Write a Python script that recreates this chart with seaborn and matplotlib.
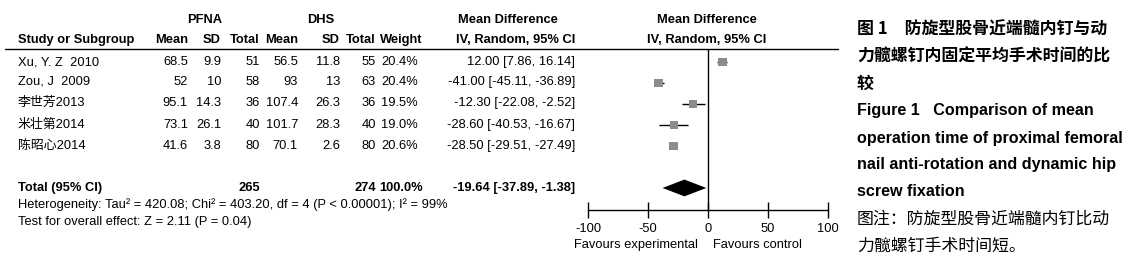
import numpy as np
import pandas as pd
import seaborn as sns
import matplotlib.pyplot as plt
from matplotlib.lines import Line2D

# 数据
studies = ['Xu, Y. Z  2010', 'Zou, J  2009', '李世芳2013', '米壮第2014', '陈昭心2014']
pfna_mean = ['68.5', '52', '95.1', '73.1', '41.6']
pfna_sd = ['9.9', '10', '14.3', '26.1', '3.8']
pfna_n = [51, 58, 36, 40, 80]
dhs_mean = ['56.5', '93', '107.4', '101.7', '70.1']
dhs_sd = ['11.8', '13', '26.3', '28.3', '2.6']
dhs_n = [55, 63, 36, 40, 80]
weights = [20.4, 20.4, 19.5, 19.0, 20.6]
md = [12.00, -41.00, -12.30, -28.60, -28.50]
ci_low = [7.86, -45.11, -22.08, -40.53, -29.51]
ci_high = [16.14, -36.89, -2.52, -16.67, -27.49]
total_md, total_low, total_high = -19.64, -37.89, -1.38
total_pfna, total_dhs = 265, 274
x_ticks = [-100, -50, 0, 50, 100]

caption_title = ['图 1　防旋型股骨近端髓内钉与动', '力髋螺钉内固定平均手术时间的比', '较']
caption_en = ['Figure 1   Comparison of mean', 'operation time of proximal femoral',
              'nail anti-rotation and dynamic hip', 'screw fixation']
caption_note = ['图注：防旋型股骨近端髓内钉比动', '力髋螺钉手术时间短。']

sns.set_theme(style='white')
plt.rcParams['font.family'] = ['Liberation Sans', 'Noto Sans CJK SC', 'DejaVu Sans']

W, H = 1132, 274
FS = 9.3
fig = plt.figure(figsize=(W / 100, H / 100), dpi=100)
fig.patch.set_facecolor('white')

def px(x, y):
    return x / W, 1 - y / H

def txt(x, y, s, ha='left', bold=False, size=FS, **kw):
    fx, fy = px(x, y)
    fig.text(fx, fy, s, ha=ha, va='center', fontsize=size,
             fontweight='bold' if bold else 'normal', color='black', **kw)

# 表头
txt(205, 20, 'PFNA', ha='center', bold=True)
txt(321, 20, 'DHS', ha='center', bold=True)
txt(508, 20, 'Mean Difference', ha='center', bold=True)
txt(707, 20, 'Mean Difference', ha='center', bold=True)
txt(18, 40, 'Study or Subgroup', bold=True)
for x, s in [(188, 'Mean'), (221, 'SD'), (260, 'Total'), (298, 'Mean'), (340, 'SD'), (376, 'Total')]:
    txt(x, 40, s, ha='right', bold=True)
txt(380, 40, 'Weight', bold=True)
txt(575, 40, 'IV, Random, 95% CI', ha='right', bold=True)
txt(707, 40, 'IV, Random, 95% CI', ha='center', bold=True)
fig.add_artist(Line2D([5 / W, 838 / W], [1 - 49 / H] * 2, color='black', lw=1))

# 各研究行
row_y = [62, 82, 103, 125, 146]
for i, y in enumerate(row_y):
    txt(18, y, studies[i])
    txt(188, y, pfna_mean[i], ha='right')
    txt(221, y, pfna_sd[i], ha='right')
    txt(260, y, str(pfna_n[i]), ha='right')
    txt(298, y, dhs_mean[i], ha='right')
    txt(340, y, dhs_sd[i], ha='right')
    txt(376, y, str(dhs_n[i]), ha='right')
    txt(381, y, f'{weights[i]:.1f}%')
    txt(575, y, f'{md[i]:.2f} [{ci_low[i]:.2f}, {ci_high[i]:.2f}]', ha='right')

txt(18, 188, 'Total (95% CI)', bold=True)
txt(260, 188, str(total_pfna), ha='right', bold=True)
txt(376, 188, str(total_dhs), ha='right', bold=True)
txt(379, 188, '100.0%', bold=True)
txt(575, 188, f'{total_md:.2f} [{total_low:.2f}, {total_high:.2f}]', ha='right', bold=True)
txt(18, 205, 'Heterogeneity: Tau² = 420.08; Chi² = 403.20, df = 4 (P < 0.00001); I² = 99%')
txt(18, 222, 'Test for overall effect: Z = 2.11 (P = 0.04)')

# 森林图
ax = fig.add_axes([588 / W, 1 - 210 / H, 240 / W, 161 / H])
ax.set_facecolor('none')
rows = np.arange(len(studies))
df = pd.DataFrame({'md': md, 'row': rows, 'w': weights})
ax.hlines(rows, ci_low, ci_high, color='black', lw=1)
sns.scatterplot(data=df, x='md', y='row', size='w', sizes=(34, 40), marker='s',
                color='#8c8c8c', edgecolor='none', legend=False, ax=ax, zorder=3)
total_row = 6
ax.fill([total_low, total_md, total_high, total_md],
        [total_row, total_row - 0.4, total_row, total_row + 0.4], color='black', lw=0)
ax.axvline(0, color='black', lw=1)
ax.set_xlim(-100, 100)
ax.set_ylim(7.05, -0.62)
for s in ['top', 'right', 'left']:
    ax.spines[s].set_visible(False)
ax.spines['bottom'].set_color('black')
ax.spines['bottom'].set_linewidth(1)
ax.set_xticks(x_ticks)
ax.set_xticklabels([str(t) for t in x_ticks])
ax.set_yticks([])
ax.tick_params(axis='x', direction='inout', length=12, width=1, colors='black',
               labelsize=FS, pad=3, bottom=True)
ax.set_xlabel('')
ax.set_ylabel('')
txt(698, 245, 'Favours experimental', ha='right')
txt(713, 245, 'Favours control', ha='left')

# 右侧图题
cap_font = ['Noto Sans CJK SC', 'DejaVu Sans']
for i, s in enumerate(caption_title):
    txt(857, 30 + 27 * i, s, size=12.2, bold=True, family=cap_font)
for i, s in enumerate(caption_en):
    txt(857, 111 + 27 * i, s, size=11.6, bold=True, family=['Liberation Sans', 'Noto Sans CJK SC'])
for i, s in enumerate(caption_note):
    txt(857, 219 + 27 * i, s, size=12.2, family=cap_font)

fig.savefig('out.png', dpi=100, facecolor='white')
